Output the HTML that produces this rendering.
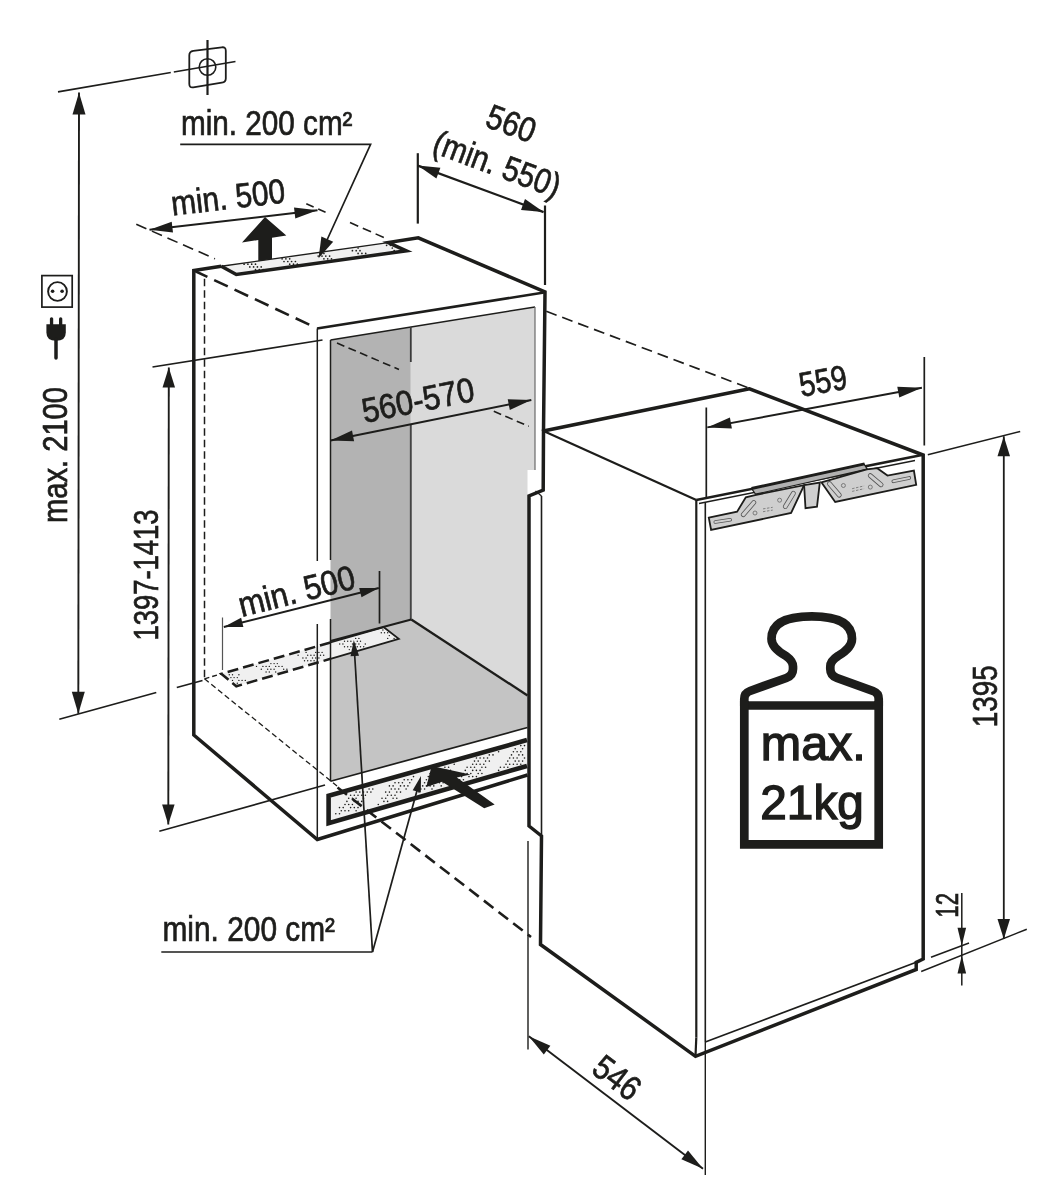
<!DOCTYPE html>
<html><head><meta charset="utf-8"><title>Einbauma&#223;e</title>
<style>
html,body{margin:0;padding:0;background:#fff}
svg{display:block;will-change:transform;opacity:.999}
text{font-family:"Liberation Sans",sans-serif;fill:#1d1d1b}
</style></head><body>
<svg width="1045" height="1200" viewBox="0 0 1045 1200">
<defs>
<pattern id="dots" width="26" height="13" patternUnits="userSpaceOnUse" patternTransform="rotate(-15)">
<rect width="26" height="13" fill="#ececec"/>
<g fill="#1d1d1b"><circle cx="3" cy="3" r="0.8"/><circle cx="7" cy="3" r="0.8"/><circle cx="5" cy="6" r="0.8"/><circle cx="9" cy="6" r="0.8"/><circle cx="3" cy="9" r="0.8"/><circle cx="7" cy="9" r="0.8"/><circle cx="11" cy="9" r="0.8"/></g>
</pattern>
</defs>
<rect width="1045" height="1200" fill="#fff"/>
<polygon points="330.5,340.0 410.8,327.0 410.8,619.5 330.5,641.0" fill="#b3b3b3" stroke="none" stroke-width="0"/>
<polygon points="410.8,327.0 535.0,307.0 535.0,470.0 527.5,470.0 527.5,695.5 410.8,619.5" fill="#dadada" stroke="none" stroke-width="0"/>
<polygon points="330.5,641.0 411.3,619.5 527.5,695.5 527.5,727.5 330.5,781.3" fill="#c4c4c4" stroke="none" stroke-width="0"/>
<polygon points="221.3,673.8 383.8,627.2 398.8,638.8 236.3,686.3" fill="#f0f0f0"/>
<polygon points="221.3,266.3 388.2,242.6 406.3,250.8 236.3,274.5" fill="#f0f0f0"/>
<polygon points="328.4,795.5 527,739.4 527,765.8 328.4,822.8" fill="#f0f0f0"/>
<g fill="#1d1d1b"><circle cx="520.8" cy="745.6" r="0.8"/><circle cx="524.5" cy="745.6" r="0.8"/><circle cx="515.2" cy="748.7" r="0.8"/><circle cx="522.6" cy="748.7" r="0.8"/><circle cx="498.6" cy="751.8" r="0.8"/><circle cx="513.4" cy="751.8" r="0.8"/><circle cx="517.1" cy="751.8" r="0.8"/><circle cx="520.8" cy="751.8" r="0.8"/><circle cx="489.3" cy="754.9" r="0.8"/><circle cx="493.0" cy="754.9" r="0.8"/><circle cx="511.5" cy="754.9" r="0.8"/><circle cx="518.9" cy="754.9" r="0.8"/><circle cx="522.6" cy="754.9" r="0.8"/><circle cx="476.4" cy="758.0" r="0.8"/><circle cx="480.1" cy="758.0" r="0.8"/><circle cx="483.8" cy="758.0" r="0.8"/><circle cx="487.5" cy="758.0" r="0.8"/><circle cx="509.7" cy="758.0" r="0.8"/><circle cx="513.4" cy="758.0" r="0.8"/><circle cx="517.1" cy="758.0" r="0.8"/><circle cx="524.5" cy="758.0" r="0.8"/><circle cx="474.5" cy="761.1" r="0.8"/><circle cx="478.2" cy="761.1" r="0.8"/><circle cx="485.6" cy="761.1" r="0.8"/><circle cx="489.3" cy="761.1" r="0.8"/><circle cx="507.8" cy="761.1" r="0.8"/><circle cx="515.2" cy="761.1" r="0.8"/><circle cx="518.9" cy="761.1" r="0.8"/><circle cx="522.6" cy="761.1" r="0.8"/><circle cx="454.2" cy="764.2" r="0.8"/><circle cx="472.7" cy="764.2" r="0.8"/><circle cx="476.4" cy="764.2" r="0.8"/><circle cx="480.1" cy="764.2" r="0.8"/><circle cx="483.8" cy="764.2" r="0.8"/><circle cx="506.0" cy="764.2" r="0.8"/><circle cx="509.7" cy="764.2" r="0.8"/><circle cx="513.4" cy="764.2" r="0.8"/><circle cx="517.1" cy="764.2" r="0.8"/><circle cx="520.8" cy="764.2" r="0.8"/><circle cx="444.9" cy="767.3" r="0.8"/><circle cx="448.6" cy="767.3" r="0.8"/><circle cx="467.1" cy="767.3" r="0.8"/><circle cx="470.8" cy="767.3" r="0.8"/><circle cx="474.5" cy="767.3" r="0.8"/><circle cx="481.9" cy="767.3" r="0.8"/><circle cx="485.6" cy="767.3" r="0.8"/><circle cx="500.4" cy="767.3" r="0.8"/><circle cx="504.1" cy="767.3" r="0.8"/><circle cx="507.8" cy="767.3" r="0.8"/><circle cx="432.0" cy="770.4" r="0.8"/><circle cx="435.7" cy="770.4" r="0.8"/><circle cx="439.4" cy="770.4" r="0.8"/><circle cx="446.8" cy="770.4" r="0.8"/><circle cx="450.5" cy="770.4" r="0.8"/><circle cx="465.3" cy="770.4" r="0.8"/><circle cx="472.7" cy="770.4" r="0.8"/><circle cx="476.4" cy="770.4" r="0.8"/><circle cx="480.1" cy="770.4" r="0.8"/><circle cx="498.6" cy="770.4" r="0.8"/><circle cx="430.1" cy="773.5" r="0.8"/><circle cx="437.5" cy="773.5" r="0.8"/><circle cx="441.2" cy="773.5" r="0.8"/><circle cx="444.9" cy="773.5" r="0.8"/><circle cx="448.6" cy="773.5" r="0.8"/><circle cx="463.4" cy="773.5" r="0.8"/><circle cx="467.1" cy="773.5" r="0.8"/><circle cx="470.8" cy="773.5" r="0.8"/><circle cx="478.2" cy="773.5" r="0.8"/><circle cx="481.9" cy="773.5" r="0.8"/><circle cx="413.5" cy="776.6" r="0.8"/><circle cx="428.3" cy="776.6" r="0.8"/><circle cx="432.0" cy="776.6" r="0.8"/><circle cx="435.7" cy="776.6" r="0.8"/><circle cx="439.4" cy="776.6" r="0.8"/><circle cx="443.1" cy="776.6" r="0.8"/><circle cx="446.8" cy="776.6" r="0.8"/><circle cx="461.6" cy="776.6" r="0.8"/><circle cx="469.0" cy="776.6" r="0.8"/><circle cx="472.7" cy="776.6" r="0.8"/><circle cx="476.4" cy="776.6" r="0.8"/><circle cx="404.2" cy="779.7" r="0.8"/><circle cx="407.9" cy="779.7" r="0.8"/><circle cx="411.6" cy="779.7" r="0.8"/><circle cx="426.4" cy="779.7" r="0.8"/><circle cx="430.1" cy="779.7" r="0.8"/><circle cx="433.8" cy="779.7" r="0.8"/><circle cx="437.5" cy="779.7" r="0.8"/><circle cx="441.2" cy="779.7" r="0.8"/><circle cx="444.9" cy="779.7" r="0.8"/><circle cx="459.7" cy="779.7" r="0.8"/><circle cx="463.4" cy="779.7" r="0.8"/><circle cx="395.0" cy="782.8" r="0.8"/><circle cx="398.7" cy="782.8" r="0.8"/><circle cx="402.4" cy="782.8" r="0.8"/><circle cx="409.8" cy="782.8" r="0.8"/><circle cx="424.6" cy="782.8" r="0.8"/><circle cx="428.3" cy="782.8" r="0.8"/><circle cx="432.0" cy="782.8" r="0.8"/><circle cx="435.7" cy="782.8" r="0.8"/><circle cx="439.4" cy="782.8" r="0.8"/><circle cx="443.1" cy="782.8" r="0.8"/><circle cx="389.4" cy="785.9" r="0.8"/><circle cx="393.1" cy="785.9" r="0.8"/><circle cx="400.5" cy="785.9" r="0.8"/><circle cx="404.2" cy="785.9" r="0.8"/><circle cx="407.9" cy="785.9" r="0.8"/><circle cx="422.7" cy="785.9" r="0.8"/><circle cx="426.4" cy="785.9" r="0.8"/><circle cx="430.1" cy="785.9" r="0.8"/><circle cx="433.8" cy="785.9" r="0.8"/><circle cx="441.2" cy="785.9" r="0.8"/><circle cx="369.1" cy="789.0" r="0.8"/><circle cx="372.8" cy="789.0" r="0.8"/><circle cx="391.3" cy="789.0" r="0.8"/><circle cx="395.0" cy="789.0" r="0.8"/><circle cx="398.7" cy="789.0" r="0.8"/><circle cx="406.1" cy="789.0" r="0.8"/><circle cx="420.9" cy="789.0" r="0.8"/><circle cx="424.6" cy="789.0" r="0.8"/><circle cx="432.0" cy="789.0" r="0.8"/><circle cx="356.1" cy="792.1" r="0.8"/><circle cx="359.8" cy="792.1" r="0.8"/><circle cx="363.5" cy="792.1" r="0.8"/><circle cx="367.2" cy="792.1" r="0.8"/><circle cx="370.9" cy="792.1" r="0.8"/><circle cx="385.7" cy="792.1" r="0.8"/><circle cx="389.4" cy="792.1" r="0.8"/><circle cx="396.8" cy="792.1" r="0.8"/><circle cx="400.5" cy="792.1" r="0.8"/><circle cx="419.0" cy="792.1" r="0.8"/><circle cx="350.6" cy="795.2" r="0.8"/><circle cx="354.3" cy="795.2" r="0.8"/><circle cx="358.0" cy="795.2" r="0.8"/><circle cx="361.7" cy="795.2" r="0.8"/><circle cx="365.4" cy="795.2" r="0.8"/><circle cx="387.6" cy="795.2" r="0.8"/><circle cx="391.3" cy="795.2" r="0.8"/><circle cx="395.0" cy="795.2" r="0.8"/><circle cx="348.7" cy="798.3" r="0.8"/><circle cx="352.4" cy="798.3" r="0.8"/><circle cx="356.1" cy="798.3" r="0.8"/><circle cx="363.5" cy="798.3" r="0.8"/><circle cx="382.0" cy="798.3" r="0.8"/><circle cx="385.7" cy="798.3" r="0.8"/><circle cx="393.1" cy="798.3" r="0.8"/><circle cx="396.8" cy="798.3" r="0.8"/><circle cx="346.9" cy="801.4" r="0.8"/><circle cx="354.3" cy="801.4" r="0.8"/><circle cx="358.0" cy="801.4" r="0.8"/><circle cx="361.7" cy="801.4" r="0.8"/><circle cx="383.9" cy="801.4" r="0.8"/><circle cx="387.6" cy="801.4" r="0.8"/><circle cx="345.0" cy="804.5" r="0.8"/><circle cx="348.7" cy="804.5" r="0.8"/><circle cx="352.4" cy="804.5" r="0.8"/><circle cx="359.8" cy="804.5" r="0.8"/><circle cx="378.3" cy="804.5" r="0.8"/><circle cx="339.5" cy="807.6" r="0.8"/><circle cx="343.2" cy="807.6" r="0.8"/><circle cx="350.6" cy="807.6" r="0.8"/><circle cx="354.3" cy="807.6" r="0.8"/><circle cx="358.0" cy="807.6" r="0.8"/><circle cx="341.3" cy="810.7" r="0.8"/><circle cx="345.0" cy="810.7" r="0.8"/><circle cx="348.7" cy="810.7" r="0.8"/><circle cx="356.1" cy="810.7" r="0.8"/><circle cx="335.8" cy="813.8" r="0.8"/><circle cx="339.5" cy="813.8" r="0.8"/></g>
<g fill="#1d1d1b"><circle cx="382.9" cy="630.0" r="0.7"/><circle cx="381.3" cy="632.8" r="0.7"/><circle cx="384.5" cy="632.8" r="0.7"/><circle cx="387.7" cy="632.8" r="0.7"/><circle cx="389.3" cy="635.6" r="0.7"/><circle cx="355.7" cy="638.4" r="0.7"/><circle cx="358.9" cy="638.4" r="0.7"/><circle cx="387.7" cy="638.4" r="0.7"/><circle cx="394.1" cy="638.4" r="0.7"/><circle cx="344.5" cy="641.2" r="0.7"/><circle cx="347.7" cy="641.2" r="0.7"/><circle cx="350.9" cy="641.2" r="0.7"/><circle cx="357.3" cy="641.2" r="0.7"/><circle cx="360.5" cy="641.2" r="0.7"/><circle cx="339.7" cy="644.0" r="0.7"/><circle cx="342.9" cy="644.0" r="0.7"/><circle cx="352.5" cy="644.0" r="0.7"/><circle cx="355.7" cy="644.0" r="0.7"/><circle cx="358.9" cy="644.0" r="0.7"/><circle cx="365.3" cy="644.0" r="0.7"/><circle cx="344.5" cy="646.8" r="0.7"/><circle cx="347.7" cy="646.8" r="0.7"/><circle cx="350.9" cy="646.8" r="0.7"/><circle cx="357.3" cy="646.8" r="0.7"/><circle cx="360.5" cy="646.8" r="0.7"/><circle cx="363.7" cy="646.8" r="0.7"/><circle cx="349.3" cy="649.6" r="0.7"/><circle cx="352.5" cy="649.6" r="0.7"/><circle cx="306.1" cy="652.4" r="0.7"/><circle cx="315.7" cy="652.4" r="0.7"/><circle cx="318.9" cy="652.4" r="0.7"/><circle cx="322.1" cy="652.4" r="0.7"/><circle cx="298.1" cy="655.2" r="0.7"/><circle cx="307.7" cy="655.2" r="0.7"/><circle cx="310.9" cy="655.2" r="0.7"/><circle cx="314.1" cy="655.2" r="0.7"/><circle cx="320.5" cy="655.2" r="0.7"/><circle cx="323.7" cy="655.2" r="0.7"/><circle cx="302.9" cy="658.0" r="0.7"/><circle cx="306.1" cy="658.0" r="0.7"/><circle cx="312.5" cy="658.0" r="0.7"/><circle cx="315.7" cy="658.0" r="0.7"/><circle cx="318.9" cy="658.0" r="0.7"/><circle cx="304.5" cy="660.8" r="0.7"/><circle cx="307.7" cy="660.8" r="0.7"/><circle cx="310.9" cy="660.8" r="0.7"/><circle cx="314.1" cy="660.8" r="0.7"/><circle cx="270.9" cy="663.6" r="0.7"/><circle cx="274.1" cy="663.6" r="0.7"/><circle cx="277.3" cy="663.6" r="0.7"/><circle cx="256.5" cy="666.4" r="0.7"/><circle cx="262.9" cy="666.4" r="0.7"/><circle cx="266.1" cy="666.4" r="0.7"/><circle cx="269.3" cy="666.4" r="0.7"/><circle cx="275.7" cy="666.4" r="0.7"/><circle cx="278.9" cy="666.4" r="0.7"/><circle cx="282.1" cy="666.4" r="0.7"/><circle cx="261.3" cy="669.2" r="0.7"/><circle cx="267.7" cy="669.2" r="0.7"/><circle cx="270.9" cy="669.2" r="0.7"/><circle cx="274.1" cy="669.2" r="0.7"/><circle cx="283.7" cy="669.2" r="0.7"/><circle cx="286.9" cy="669.2" r="0.7"/><circle cx="266.1" cy="672.0" r="0.7"/><circle cx="269.3" cy="672.0" r="0.7"/><circle cx="275.7" cy="672.0" r="0.7"/><circle cx="229.3" cy="674.8" r="0.7"/><circle cx="232.5" cy="674.8" r="0.7"/><circle cx="238.9" cy="674.8" r="0.7"/><circle cx="230.9" cy="677.6" r="0.7"/><circle cx="234.1" cy="677.6" r="0.7"/><circle cx="237.3" cy="677.6" r="0.7"/><circle cx="232.5" cy="680.4" r="0.7"/><circle cx="238.9" cy="680.4" r="0.7"/><circle cx="242.1" cy="680.4" r="0.7"/><circle cx="245.3" cy="680.4" r="0.7"/><circle cx="237.3" cy="683.2" r="0.7"/></g>
<g fill="#1d1d1b"><circle cx="386.6" cy="245.3" r="0.85"/><circle cx="390.4" cy="245.3" r="0.85"/><circle cx="358.1" cy="248.0" r="0.85"/><circle cx="392.3" cy="248.0" r="0.85"/><circle cx="352.4" cy="250.7" r="0.85"/><circle cx="356.2" cy="250.7" r="0.85"/><circle cx="360.0" cy="250.7" r="0.85"/><circle cx="394.2" cy="250.7" r="0.85"/><circle cx="320.1" cy="253.4" r="0.85"/><circle cx="323.9" cy="253.4" r="0.85"/><circle cx="358.1" cy="253.4" r="0.85"/><circle cx="361.9" cy="253.4" r="0.85"/><circle cx="365.7" cy="253.4" r="0.85"/><circle cx="318.2" cy="256.1" r="0.85"/><circle cx="322.0" cy="256.1" r="0.85"/><circle cx="325.8" cy="256.1" r="0.85"/><circle cx="329.6" cy="256.1" r="0.85"/><circle cx="282.1" cy="258.8" r="0.85"/><circle cx="285.9" cy="258.8" r="0.85"/><circle cx="289.7" cy="258.8" r="0.85"/><circle cx="323.9" cy="258.8" r="0.85"/><circle cx="327.7" cy="258.8" r="0.85"/><circle cx="331.5" cy="258.8" r="0.85"/><circle cx="284.0" cy="261.5" r="0.85"/><circle cx="287.8" cy="261.5" r="0.85"/><circle cx="291.6" cy="261.5" r="0.85"/><circle cx="295.4" cy="261.5" r="0.85"/><circle cx="244.1" cy="264.2" r="0.85"/><circle cx="247.9" cy="264.2" r="0.85"/><circle cx="251.7" cy="264.2" r="0.85"/><circle cx="255.5" cy="264.2" r="0.85"/><circle cx="289.7" cy="264.2" r="0.85"/><circle cx="293.5" cy="264.2" r="0.85"/><circle cx="297.3" cy="264.2" r="0.85"/><circle cx="249.8" cy="266.9" r="0.85"/><circle cx="253.6" cy="266.9" r="0.85"/><circle cx="257.4" cy="266.9" r="0.85"/><circle cx="261.2" cy="266.9" r="0.85"/><circle cx="255.5" cy="269.6" r="0.85"/><circle cx="259.3" cy="269.6" r="0.85"/><circle cx="263.1" cy="269.6" r="0.85"/></g>
<line x1="58" y1="91.8" x2="170.8" y2="72.5" stroke="#1d1d1b" stroke-width="1.7" stroke-linecap="butt"/>
<line x1="173.8" y1="72" x2="235.5" y2="61.5" stroke="#1d1d1b" stroke-width="1.7" stroke-linecap="butt"/>
<path d="M193.3,50.8 L221.8,47.3 Q225.8,46.8 225.8,50.8 L225.8,78.5 Q225.8,82 221.8,82.7 L193.3,87.3 Q189.3,88 189.3,84 L189.3,55.3 Q189.3,51.3 193.3,50.8 Z" fill="none" stroke="#1d1d1b" stroke-width="1.8" stroke-linejoin="miter" stroke-linecap="butt"/>
<circle cx="207.5" cy="67" r="8.3" fill="none" stroke="#1d1d1b" stroke-width="1.6"/>
<line x1="207.5" y1="40" x2="207.5" y2="95" stroke="#1d1d1b" stroke-width="2.2" stroke-linecap="butt"/>
<line x1="79" y1="92.5" x2="78.3" y2="713.8" stroke="#1d1d1b" stroke-width="1.9" stroke-linecap="butt"/>
<polygon points="79.0,92.5 85.5,114.5 72.5,114.5" fill="#1d1d1b" stroke="none" stroke-width="0"/>
<polygon points="78.3,713.8 71.8,691.8 84.8,691.8" fill="#1d1d1b" stroke="none" stroke-width="0"/>
<line x1="59.3" y1="719.3" x2="156.3" y2="692.5" stroke="#1d1d1b" stroke-width="1.7" stroke-linecap="butt"/>
<line x1="176.8" y1="687.5" x2="202.5" y2="680.5" stroke="#1d1d1b" stroke-width="1.7" stroke-linecap="butt"/>
<text transform="translate(66.8,523) rotate(-90)" font-size="34.5" text-anchor="start" font-weight="normal" textLength="136" lengthAdjust="spacingAndGlyphs" stroke="#1d1d1b" stroke-width="0.7">max. 2100</text>
<rect x="41.9" y="275.6" width="30.3" height="31.5" fill="none" stroke="#1d1d1b" stroke-width="1.7"/>
<circle cx="57.5" cy="291.5" r="9.4" fill="none" stroke="#1d1d1b" stroke-width="1.9"/>
<circle cx="52.6" cy="291.3" r="1.8" fill="#1d1d1b"/><circle cx="62.1" cy="291.3" r="1.8" fill="#1d1d1b"/>
<rect x="49.9" y="317.2" width="3.3" height="9" rx="1.6" fill="#1d1d1b"/><rect x="59" y="317.2" width="3.3" height="9" rx="1.6" fill="#1d1d1b"/>
<path d="M46.4,324.3 L65.8,324.3 L65.8,332.5 Q65.8,340.8 56.1,340.8 Q46.4,340.8 46.4,332.5 Z" fill="#1d1d1b"/>
<line x1="56" y1="339" x2="56" y2="357.9" stroke="#1d1d1b" stroke-width="3.5" stroke-linecap="round"/>
<line x1="168.8" y1="367.5" x2="168.3" y2="824.5" stroke="#1d1d1b" stroke-width="1.9" stroke-linecap="butt"/>
<polygon points="168.8,367.5 175.0,387.5 162.5,387.5" fill="#1d1d1b" stroke="none" stroke-width="0"/>
<polygon points="168.3,824.5 162.1,804.5 174.6,804.5" fill="#1d1d1b" stroke="none" stroke-width="0"/>
<line x1="152.5" y1="367" x2="322.5" y2="340" stroke="#1d1d1b" stroke-width="1.7" stroke-linecap="butt"/>
<line x1="159.3" y1="831.3" x2="325" y2="785" stroke="#1d1d1b" stroke-width="1.7" stroke-linecap="butt"/>
<text transform="translate(158.4,640.5) rotate(-90)" font-size="34.5" text-anchor="start" font-weight="normal" textLength="131" lengthAdjust="spacingAndGlyphs" stroke="#1d1d1b" stroke-width="0.7">1397-1413</text>
<line x1="193.8" y1="270.5" x2="310" y2="325" stroke="#1d1d1b" stroke-width="2.6" stroke-dasharray="15 7.5" stroke-linecap="butt"/>
<line x1="204.5" y1="278.8" x2="204.5" y2="678.8" stroke="#1d1d1b" stroke-width="1.5" stroke-dasharray="7.5 4" stroke-linecap="butt"/>
<line x1="204.5" y1="678.8" x2="337" y2="786" stroke="#1d1d1b" stroke-width="1.3" stroke-dasharray="5.5 3.2" stroke-linecap="butt"/>
<line x1="204.5" y1="678.8" x2="221.3" y2="673.8" stroke="#1d1d1b" stroke-width="1.4" stroke-dasharray="5 3" stroke-linecap="butt"/>
<line x1="337.5" y1="787.5" x2="531" y2="937" stroke="#1d1d1b" stroke-width="2.6" stroke-dasharray="12 6.5" stroke-linecap="butt"/>
<line x1="337" y1="343" x2="399" y2="369.5" stroke="#1d1d1b" stroke-width="1.6" stroke-dasharray="8 4.5" stroke-linecap="butt"/>
<line x1="493.8" y1="411.3" x2="528.8" y2="426.3" stroke="#1d1d1b" stroke-width="1.6" stroke-dasharray="8 4.5" stroke-linecap="butt"/>
<line x1="546.3" y1="311.3" x2="747.5" y2="387.5" stroke="#1d1d1b" stroke-width="1.7" stroke-dasharray="11 6" stroke-linecap="butt"/>
<line x1="136.3" y1="224.3" x2="215" y2="258.8" stroke="#1d1d1b" stroke-width="1.6" stroke-dasharray="11 6" stroke-linecap="butt"/>
<line x1="306.3" y1="203.8" x2="326.3" y2="212.5" stroke="#1d1d1b" stroke-width="1.6" stroke-dasharray="8 5" stroke-linecap="butt"/>
<line x1="350" y1="222.5" x2="383.8" y2="237.5" stroke="#1d1d1b" stroke-width="1.6" stroke-dasharray="9 5" stroke-linecap="butt"/>
<line x1="317.3" y1="328.5" x2="317.3" y2="561" stroke="#1d1d1b" stroke-width="1.5" stroke-linecap="butt"/>
<line x1="317.3" y1="624" x2="317.3" y2="839.5" stroke="#1d1d1b" stroke-width="1.5" stroke-linecap="butt"/>
<line x1="330.5" y1="340" x2="330.5" y2="560" stroke="#1d1d1b" stroke-width="1.5" stroke-linecap="butt"/>
<line x1="330.5" y1="619" x2="330.5" y2="781.3" stroke="#1d1d1b" stroke-width="1.5" stroke-linecap="butt"/>
<line x1="330.5" y1="340" x2="535" y2="307" stroke="#1d1d1b" stroke-width="1.5" stroke-linecap="butt"/>
<line x1="535" y1="307" x2="535" y2="470" stroke="#6a6a6a" stroke-width="1.2" stroke-linecap="butt"/>
<line x1="410.8" y1="327" x2="410.8" y2="362" stroke="#3a3a3a" stroke-width="1.8" stroke-linecap="butt"/>
<line x1="410.8" y1="425" x2="410.8" y2="619.5" stroke="#444" stroke-width="1.9" stroke-linecap="butt"/>
<line x1="330.5" y1="641" x2="411.3" y2="619.5" stroke="#1d1d1b" stroke-width="2.1" stroke-linecap="butt"/>
<line x1="411.3" y1="619.5" x2="527.5" y2="695.5" stroke="#1d1d1b" stroke-width="2.3" stroke-linecap="butt"/>
<line x1="330.5" y1="781.3" x2="527.5" y2="727.5" stroke="#1d1d1b" stroke-width="1.7" stroke-linecap="butt"/>
<path d="M330.5,642.5 L383.8,627.2 L398.8,638.8 L330.5,658.8" fill="none" stroke="#1d1d1b" stroke-width="1.8" stroke-linejoin="miter" stroke-linecap="butt"/>
<path d="M330.5,642.5 L221.3,673.8 L236.3,686.3 L330.5,658.8" fill="none" stroke="#1d1d1b" stroke-width="2.5" stroke-linejoin="miter" stroke-linecap="butt" stroke-dasharray="11 5"/>
<line x1="221.3" y1="266.3" x2="388.2" y2="242.6" stroke="#1d1d1b" stroke-width="1.4" stroke-linecap="butt"/>
<line x1="317" y1="328.5" x2="544" y2="292.5" stroke="#1d1d1b" stroke-width="2.6" stroke-linecap="butt"/>
<path d="M527,740 L328.6,795.7 L328.6,823.1 L527,766" fill="none" stroke="#1d1d1b" stroke-width="4.6" stroke-linejoin="miter" stroke-linecap="butt"/>
<path d="M221.3,266.3 L193.8,270.5 L193.8,735 L317.3,839.5 L527.5,775" fill="none" stroke="#1d1d1b" stroke-width="3.5" stroke-linejoin="miter" stroke-linecap="butt"/>
<path d="M221.3,266.3 L236.3,274.5 L406.3,250.8 L388.2,242.6 L418.3,237.8 L545,292 L543.5,431" fill="none" stroke="#1d1d1b" stroke-width="3.5" stroke-linejoin="miter" stroke-linecap="butt"/>
<path d="M749.5,388.8 L543.5,431 L543.2,490 L529,496 L529,826 L541.5,836 L540.5,944.5 L695.5,1056.3 L916.2,969.5 L916.2,962.3 L923.2,959 L923.2,455 Z" fill="none" stroke="#1d1d1b" stroke-width="3.5" stroke-linejoin="miter" stroke-linecap="butt"/>
<line x1="541.5" y1="496" x2="541.5" y2="836" stroke="#1d1d1b" stroke-width="1.6" stroke-linecap="butt"/>
<line x1="543.5" y1="431" x2="696.3" y2="500" stroke="#1d1d1b" stroke-width="2.2" stroke-linecap="butt"/>
<line x1="696.3" y1="500" x2="923.2" y2="454.8" stroke="#1d1d1b" stroke-width="2.6" stroke-linecap="butt"/>
<line x1="699" y1="503.5" x2="915" y2="460.5" stroke="#1d1d1b" stroke-width="1.4" stroke-linecap="butt"/>
<line x1="696.3" y1="500" x2="696.3" y2="1037.5" stroke="#1d1d1b" stroke-width="2.2" stroke-linecap="butt"/>
<line x1="696.3" y1="1037.5" x2="695.5" y2="1056.3" stroke="#1d1d1b" stroke-width="2.2" stroke-linecap="butt"/>
<line x1="705.3" y1="502" x2="705.3" y2="1042" stroke="#1d1d1b" stroke-width="1.6" stroke-linecap="butt"/>
<line x1="705.3" y1="1042" x2="916.2" y2="962.3" stroke="#1d1d1b" stroke-width="1.7" stroke-linecap="butt"/>
<line x1="705.3" y1="1042" x2="705.3" y2="1175" stroke="#1d1d1b" stroke-width="1.4" stroke-linecap="butt"/>
<line x1="528" y1="841" x2="528" y2="1049.5" stroke="#1d1d1b" stroke-width="1.4" stroke-linecap="butt"/>
<text transform="translate(181,134.5) rotate(0)" font-size="34.5" text-anchor="start" font-weight="normal" textLength="171.5" lengthAdjust="spacingAndGlyphs" stroke="#1d1d1b" stroke-width="0.7">min. 200 cm²</text>
<path d="M180.2,144.3 L370.6,144.3 L322,251" fill="none" stroke="#1d1d1b" stroke-width="1.7" stroke-linejoin="miter" stroke-linecap="butt"/>
<polygon points="318.6,258.2 321.4,236.4 333.2,241.8" fill="#1d1d1b" stroke="none" stroke-width="0"/>
<line x1="149.5" y1="229.8" x2="317.5" y2="210.3" stroke="#1d1d1b" stroke-width="1.9" stroke-linecap="butt"/>
<polygon points="149.5,229.8 171.7,221.7 173.0,232.6" fill="#1d1d1b" stroke="none" stroke-width="0"/>
<polygon points="317.5,210.3 295.3,218.4 294.0,207.5" fill="#1d1d1b" stroke="none" stroke-width="0"/>
<text transform="translate(172.5,215.5) rotate(-6.6)" font-size="34.5" text-anchor="start" font-weight="normal" textLength="114.5" lengthAdjust="spacingAndGlyphs" stroke="#1d1d1b" stroke-width="0.7">min. 500</text>
<polygon points="265.0,217.0 286.3,235.5 272.0,237.8 272.0,259.0 258.3,261.0 258.3,240.0 242.0,242.5" fill="#1d1d1b" stroke="none" stroke-width="0"/>
<line x1="417.8" y1="153.2" x2="417.8" y2="223.6" stroke="#1d1d1b" stroke-width="2.2" stroke-linecap="butt"/>
<line x1="545" y1="205.5" x2="545" y2="285" stroke="#1d1d1b" stroke-width="2.2" stroke-linecap="butt"/>
<line x1="417.8" y1="165.6" x2="543.6" y2="212.1" stroke="#1d1d1b" stroke-width="2.2" stroke-linecap="butt"/>
<polygon points="417.8,165.6 440.4,167.8 436.4,178.6" fill="#1d1d1b" stroke="none" stroke-width="0"/>
<polygon points="543.6,212.1 521.0,209.9 525.0,199.1" fill="#1d1d1b" stroke="none" stroke-width="0"/>
<line x1="330.5" y1="440.5" x2="531.3" y2="400" stroke="#1d1d1b" stroke-width="2.0" stroke-linecap="butt"/>
<polygon points="330.5,440.5 352.0,430.6 354.1,441.3" fill="#1d1d1b" stroke="none" stroke-width="0"/>
<polygon points="531.3,400.0 509.8,409.9 507.7,399.2" fill="#1d1d1b" stroke="none" stroke-width="0"/>
<text transform="translate(364.4,423) rotate(-11.4)" font-size="34.5" text-anchor="start" font-weight="normal" textLength="114" lengthAdjust="spacingAndGlyphs" stroke="#1d1d1b" stroke-width="0.7">560-570</text>
<line x1="223.8" y1="627" x2="378.8" y2="588" stroke="#1d1d1b" stroke-width="1.9" stroke-linecap="butt"/>
<polygon points="223.8,627.0 241.1,617.8 243.4,627.0" fill="#1d1d1b" stroke="none" stroke-width="0"/>
<polygon points="378.8,588.0 361.5,597.2 359.2,588.0" fill="#1d1d1b" stroke="none" stroke-width="0"/>
<line x1="222.5" y1="617.5" x2="222.5" y2="670" stroke="#555" stroke-width="1.2" stroke-linecap="butt"/>
<line x1="379.5" y1="571" x2="379.5" y2="623.5" stroke="#1d1d1b" stroke-width="1.7" stroke-linecap="butt"/>
<text transform="translate(241.8,617) rotate(-14.1)" font-size="34.5" text-anchor="start" font-weight="normal" textLength="119" lengthAdjust="spacingAndGlyphs" stroke="#1d1d1b" stroke-width="0.7">min. 500</text>
<text transform="translate(162.5,941.3) rotate(0)" font-size="34.5" text-anchor="start" font-weight="normal" textLength="172.5" lengthAdjust="spacingAndGlyphs" stroke="#1d1d1b" stroke-width="0.7">min. 200 cm²</text>
<line x1="161.3" y1="952" x2="372.5" y2="952" stroke="#1d1d1b" stroke-width="1.7" stroke-linecap="butt"/>
<line x1="372.5" y1="952" x2="354.5" y2="652" stroke="#1d1d1b" stroke-width="1.7" stroke-linecap="butt"/>
<polygon points="353.8,640.0 359.0,655.7 350.5,656.2" fill="#1d1d1b" stroke="none" stroke-width="0"/>
<line x1="372.5" y1="952" x2="418" y2="787" stroke="#1d1d1b" stroke-width="1.7" stroke-linecap="butt"/>
<polygon points="421.0,776.0 420.8,792.6 412.7,790.3" fill="#1d1d1b" stroke="none" stroke-width="0"/>
<polygon points="431.6,766.0 470.5,774.5 456.8,777.6 494.7,804.6 484.2,808.2 442.1,781.8 426.3,787.1" fill="#1d1d1b" stroke="none" stroke-width="0"/>
<line x1="706.3" y1="407.5" x2="706.3" y2="497.5" stroke="#1d1d1b" stroke-width="1.7" stroke-linecap="butt"/>
<line x1="924.3" y1="357" x2="924.3" y2="445.5" stroke="#1d1d1b" stroke-width="1.7" stroke-linecap="butt"/>
<line x1="707.3" y1="427.4" x2="921.9" y2="387.8" stroke="#1d1d1b" stroke-width="1.9" stroke-linecap="butt"/>
<polygon points="707.3,427.4 729.9,417.6 731.9,428.5" fill="#1d1d1b" stroke="none" stroke-width="0"/>
<polygon points="921.9,387.8 899.3,397.6 897.3,386.7" fill="#1d1d1b" stroke="none" stroke-width="0"/>
<text transform="translate(801.5,397) rotate(-10.5)" font-size="34.5" text-anchor="start" font-weight="normal" textLength="48" lengthAdjust="spacingAndGlyphs" stroke="#1d1d1b" stroke-width="0.7">559</text>
<line x1="927.8" y1="454.8" x2="1020.2" y2="431.4" stroke="#1d1d1b" stroke-width="1.5" stroke-linecap="butt"/>
<line x1="921.2" y1="971.5" x2="1026.8" y2="929.2" stroke="#1d1d1b" stroke-width="1.5" stroke-linecap="butt"/>
<line x1="1003.8" y1="436.3" x2="1003.8" y2="939" stroke="#1d1d1b" stroke-width="1.8" stroke-linecap="butt"/>
<polygon points="1003.8,436.3 1010.0,456.3 997.5,456.3" fill="#1d1d1b" stroke="none" stroke-width="0"/>
<polygon points="1003.8,939.0 997.5,919.0 1010.0,919.0" fill="#1d1d1b" stroke="none" stroke-width="0"/>
<text transform="translate(996.7,727.2) rotate(-90)" font-size="34.5" text-anchor="start" font-weight="normal" textLength="62" lengthAdjust="spacingAndGlyphs" stroke="#1d1d1b" stroke-width="0.7">1395</text>
<line x1="931" y1="957.3" x2="969" y2="943" stroke="#1d1d1b" stroke-width="1.5" stroke-linecap="butt"/>
<line x1="961.8" y1="893" x2="961.8" y2="985.4" stroke="#1d1d1b" stroke-width="1.5" stroke-linecap="butt"/>
<polygon points="961.8,945.7 957.5,927.7 966.1,927.7" fill="#1d1d1b" stroke="none" stroke-width="0"/>
<polygon points="961.8,955.6 966.1,973.6 957.5,973.6" fill="#1d1d1b" stroke="none" stroke-width="0"/>
<text transform="translate(957.5,917.7) rotate(-90)" font-size="32" text-anchor="start" font-weight="normal" textLength="24.7" lengthAdjust="spacingAndGlyphs" stroke="#1d1d1b" stroke-width="0.7">12</text>
<line x1="528.8" y1="1036.3" x2="703" y2="1168.8" stroke="#1d1d1b" stroke-width="1.9" stroke-linecap="butt"/>
<polygon points="528.8,1036.3 550.4,1045.8 543.8,1054.6" fill="#1d1d1b" stroke="none" stroke-width="0"/>
<polygon points="703.0,1168.8 681.4,1159.3 688.0,1150.5" fill="#1d1d1b" stroke="none" stroke-width="0"/>
<text transform="translate(590,1072) rotate(37.3)" font-size="34.5" text-anchor="start" font-weight="normal" textLength="50" lengthAdjust="spacingAndGlyphs" stroke="#1d1d1b" stroke-width="0.7">546</text>
<text transform="translate(507.3,134.6) rotate(20.3)" font-size="34.5" text-anchor="middle" font-weight="normal" textLength="50" lengthAdjust="spacingAndGlyphs" stroke="#1d1d1b" stroke-width="0.7">560</text>
<text transform="translate(493,175) rotate(20.3)" font-size="34.5" text-anchor="middle" font-weight="normal" textLength="133" lengthAdjust="spacingAndGlyphs" stroke="#1d1d1b" stroke-width="0.7">(min. 550)</text>
<path d="M744.3,705.5 L878.7,705.5" fill="none" stroke="#1d1d1b" stroke-width="8.7" stroke-linejoin="miter" stroke-linecap="butt"/>
<path d="M744.3,701 L744.3,844.4 L878.7,844.4 L878.7,701" fill="none" stroke="#1d1d1b" stroke-width="8.7" stroke-linejoin="miter" stroke-linecap="butt"/>
<path d="M744.3,706 L744.3,699 Q744.3,693 750,691 L786.3,678 Q793,675.5 793,669 L793,666.5 Q793,661 786,656 Q771.5,648 771.5,638.8 Q771.5,616.3 811.8,616.3 Q852,616.3 852,638.8 Q852,648 838,656 Q830.3,661 830.3,666.5 L830.3,669 Q830.3,675.5 837,678 L873,691 Q878.7,693 878.7,699 L878.7,706" fill="none" stroke="#1d1d1b" stroke-width="8.7" stroke-linejoin="round" stroke-linecap="butt"/>
<text transform="translate(760.8,759.5) rotate(0)" font-size="48" text-anchor="start" font-weight="normal" textLength="105" lengthAdjust="spacingAndGlyphs" stroke="#1d1d1b" stroke-width="1.4">max.</text>
<text transform="translate(760.3,818.8) rotate(0)" font-size="48" text-anchor="start" font-weight="normal" textLength="103.5" lengthAdjust="spacingAndGlyphs" stroke="#1d1d1b" stroke-width="1.4">21kg</text>
<polygon points="751.6,488.7 864.1,464.1 867.3,469.2 755.5,494.2" fill="#b0b0b0" stroke="#1d1d1b" stroke-width="1.2"/>
<line x1="751.5525953146532" y1="488.46118511713365" x2="864.5521359669269" y2="463.8860817638953" stroke="#1d1d1b" stroke-width="3" stroke-linecap="butt"/>
<polygon points="708.8,517.6 737.1,511.7 745.8,497.4 755.0,495.1 804.1,485.2 791.1,513.0 711.1,530.0" fill="#cfcfcf" stroke="#1d1d1b" stroke-width="1.8"/>
<polygon points="804.1,485.2 819.8,482.5 817.0,506.6 805.5,508.2" fill="#cfcfcf" stroke="#1d1d1b" stroke-width="1.8"/>
<polygon points="821.4,482.3 866.8,469.4 877.2,468.2 887.5,475.6 913.9,470.5 916.2,484.8 835.2,502.0" fill="#cfcfcf" stroke="#1d1d1b" stroke-width="1.8"/>
<line x1="743.3" y1="514.6" x2="753.8" y2="502.5" stroke="#555" stroke-width="4.800000000000001" stroke-linecap="round"/>
<line x1="743.3" y1="514.6" x2="753.8" y2="502.5" stroke="#cfcfcf" stroke-width="3.2" stroke-linecap="round"/>
<line x1="785.3" y1="506.6" x2="793.4" y2="493.3" stroke="#555" stroke-width="4.800000000000001" stroke-linecap="round"/>
<line x1="785.3" y1="506.6" x2="793.4" y2="493.3" stroke="#cfcfcf" stroke-width="3.2" stroke-linecap="round"/>
<line x1="715.3" y1="522.0" x2="730.2" y2="519.7" stroke="#555" stroke-width="3.6" stroke-linecap="round"/>
<line x1="715.3" y1="522.0" x2="730.2" y2="519.7" stroke="#cfcfcf" stroke-width="2" stroke-linecap="round"/>
<line x1="829.4" y1="483.6" x2="839.3" y2="495.1" stroke="#555" stroke-width="4.800000000000001" stroke-linecap="round"/>
<line x1="829.4" y1="483.6" x2="839.3" y2="495.1" stroke="#cfcfcf" stroke-width="3.2" stroke-linecap="round"/>
<line x1="870.3" y1="475.6" x2="881.1" y2="484.8" stroke="#555" stroke-width="4.800000000000001" stroke-linecap="round"/>
<line x1="870.3" y1="475.6" x2="881.1" y2="484.8" stroke="#cfcfcf" stroke-width="3.2" stroke-linecap="round"/>
<line x1="893.3" y1="481.3" x2="909.3" y2="477.9" stroke="#555" stroke-width="3.6" stroke-linecap="round"/>
<line x1="893.3" y1="481.3" x2="909.3" y2="477.9" stroke="#cfcfcf" stroke-width="2" stroke-linecap="round"/>
<circle cx="755.0" cy="513.0" r="2" fill="none" stroke="#666" stroke-width="0.8"/>
<circle cx="779.6" cy="500.2" r="2" fill="none" stroke="#666" stroke-width="0.8"/>
<circle cx="843.4" cy="485.5" r="2" fill="none" stroke="#666" stroke-width="0.8"/>
<circle cx="870.3" cy="487.1" r="2" fill="none" stroke="#666" stroke-width="0.8"/>
<line x1="763.0" y1="508.9" x2="772.7" y2="507.3" stroke="#777" stroke-width="0.9" stroke-dasharray="2.5 1.5"/>
<line x1="763.0" y1="511.7" x2="772.7" y2="510.1" stroke="#777" stroke-width="0.9" stroke-dasharray="2.5 1.5"/>
<line x1="852.1" y1="488.7" x2="864.1" y2="485.9" stroke="#777" stroke-width="0.9" stroke-dasharray="2.5 1.5"/>
<line x1="852.1" y1="491.4" x2="864.1" y2="488.7" stroke="#777" stroke-width="0.9" stroke-dasharray="2.5 1.5"/>
<line x1="535.5" y1="491" x2="541.5" y2="496" stroke="#1d1d1b" stroke-width="1.2" stroke-linecap="butt"/>
</svg>
</body></html>
